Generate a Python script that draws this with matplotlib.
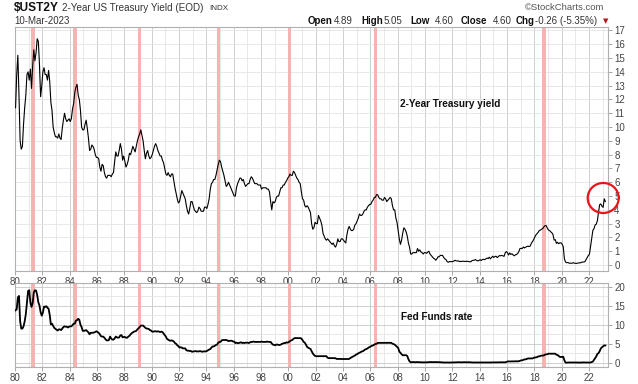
import numpy as np
import matplotlib
matplotlib.use("Agg")
import matplotlib.pyplot as plt
from matplotlib.patches import Ellipse
from matplotlib.ticker import MultipleLocator

plt.rcParams['font.family'] = ['Liberation Sans', 'DejaVu Sans']

# ---- 2-Year Treasury yield, monthly, per decade ----
ust2y_1980s = [
    11.4, 13.8, 15.2, 12.3, 9.0, 8.4, 8.6, 10.2, 11.4, 12.3, 13.8, 14.0,
    13.4, 14.2, 12.8, 14.4, 15.6, 14.8, 15.4, 16.4, 16.2, 14.5, 12.2, 13.0,
    14.0, 14.3, 13.8, 13.8, 13.4, 14.1, 13.3, 11.8, 11.2, 10.0, 9.6, 9.3,
    9.3, 9.2, 9.5, 9.2, 9.1, 9.9, 10.5, 11.0, 10.6, 10.4, 10.5, 10.6,
    10.4, 10.6, 11.3, 11.7, 12.5, 12.9, 13.1, 12.3, 12.0, 11.2, 10.0, 9.8,
    9.8, 10.2, 10.5, 9.9, 9.2, 8.3, 8.4, 8.7, 8.6, 8.4, 8.0, 7.8,
    7.8, 7.7, 7.1, 6.8, 7.3, 7.2, 6.7, 6.4, 6.3, 6.5, 6.5, 6.5,
    6.4, 6.6, 6.7, 7.5, 8.2, 7.9, 7.9, 8.3, 8.8, 8.4, 7.6, 7.9,
    7.5, 7.1, 7.3, 7.6, 8.1, 8.0, 8.3, 8.6, 8.4, 8.2, 8.6, 9.0,
    9.3, 9.5, 9.8, 9.4, 9.0, 8.3, 7.7, 8.1, 8.3, 7.9, 7.7, 7.8,
]
ust2y_1990s = [
    8.0, 8.3, 8.6, 8.8, 8.6, 8.3, 8.1, 7.9, 7.9, 7.6, 7.4, 7.0,
    6.6, 6.5, 6.7, 6.5, 6.4, 6.6, 6.6, 6.1, 5.6, 5.2, 4.8, 4.5,
    4.6, 5.0, 5.4, 5.2, 5.0, 4.8, 4.3, 3.9, 3.7, 4.1, 4.6, 4.6,
    4.3, 4.0, 3.9, 3.8, 3.9, 4.2, 4.1, 3.9, 3.9, 3.9, 4.2, 4.2,
    4.1, 4.4, 4.8, 5.5, 5.9, 6.0, 6.2, 6.2, 6.5, 6.9, 7.3, 7.6,
    7.5, 7.1, 6.8, 6.5, 6.1, 5.7, 5.8, 6.0, 5.8, 5.6, 5.4, 5.2,
    5.0, 5.0, 5.6, 5.9, 6.1, 6.3, 6.3, 6.1, 6.2, 5.9, 5.7, 5.8,
    5.9, 5.9, 6.2, 6.4, 6.3, 6.1, 5.9, 5.9, 5.9, 5.8, 5.8, 5.8,
    5.5, 5.6, 5.6, 5.6, 5.6, 5.5, 5.5, 5.3, 4.6, 4.0, 4.6, 4.5,
    4.6, 4.9, 5.0, 5.0, 5.3, 5.6, 5.6, 5.8, 5.8, 6.0, 6.1, 6.3,
]
ust2y_2000s = [
    6.4, 6.6, 6.5, 6.5, 6.8, 6.7, 6.5, 6.3, 6.2, 6.0, 5.9, 5.3,
    4.8, 4.7, 4.3, 4.2, 4.3, 4.2, 4.0, 3.8, 3.0, 2.6, 2.7, 3.1,
    3.0, 3.0, 3.6, 3.4, 3.2, 2.9, 2.3, 2.1, 1.9, 1.8, 1.9, 1.8,
    1.7, 1.6, 1.5, 1.6, 1.4, 1.3, 1.5, 1.9, 1.7, 1.7, 1.9, 1.9,
    1.8, 1.7, 1.6, 2.2, 2.6, 2.8, 2.6, 2.5, 2.5, 2.6, 2.9, 3.0,
    3.2, 3.4, 3.7, 3.6, 3.6, 3.7, 3.9, 4.0, 4.0, 4.2, 4.3, 4.4,
    4.4, 4.6, 4.7, 4.9, 4.9, 5.1, 5.1, 4.9, 4.8, 4.8, 4.7, 4.7,
    4.9, 4.8, 4.6, 4.7, 4.8, 4.9, 4.8, 4.3, 4.0, 4.0, 3.4, 3.1,
    2.5, 1.9, 1.5, 1.8, 2.3, 2.7, 2.6, 2.4, 2.1, 1.6, 1.3, 0.8,
    0.8, 0.9, 0.9, 0.9, 0.9, 1.2, 1.0, 1.1, 0.95, 0.9, 0.8, 0.9,
]
ust2y_2010s = [
    0.9, 0.85, 0.95, 1.0, 0.8, 0.7, 0.6, 0.5, 0.45, 0.35, 0.45, 0.6,
    0.6, 0.7, 0.7, 0.7, 0.55, 0.45, 0.4, 0.25, 0.2, 0.25, 0.25, 0.25,
    0.25, 0.3, 0.35, 0.3, 0.3, 0.3, 0.25, 0.27, 0.26, 0.28, 0.27, 0.26,
    0.27, 0.27, 0.26, 0.23, 0.25, 0.33, 0.34, 0.36, 0.4, 0.33, 0.3, 0.34,
    0.39, 0.33, 0.4, 0.42, 0.39, 0.45, 0.51, 0.47, 0.57, 0.45, 0.54, 0.64,
    0.55, 0.62, 0.64, 0.54, 0.61, 0.69, 0.67, 0.7, 0.67, 0.63, 0.88, 0.98,
    0.9, 0.73, 0.88, 0.77, 0.82, 0.73, 0.67, 0.74, 0.77, 0.84, 0.98, 1.2,
    1.21, 1.2, 1.31, 1.24, 1.3, 1.34, 1.37, 1.34, 1.38, 1.58, 1.7, 1.84,
    2.03, 2.18, 2.28, 2.38, 2.51, 2.53, 2.61, 2.64, 2.77, 2.86, 2.86, 2.68,
    2.54, 2.5, 2.41, 2.34, 2.21, 1.81, 1.84, 1.57, 1.65, 1.55, 1.61, 1.61,
]
ust2y_2020s = [
    1.52, 1.33, 0.45, 0.22, 0.17, 0.19, 0.14, 0.14, 0.13, 0.14, 0.17, 0.13,
    0.13, 0.12, 0.15, 0.16, 0.16, 0.2, 0.22, 0.22, 0.24, 0.39, 0.53, 0.69,
    0.78, 1.36, 1.98, 2.51, 2.64, 2.91, 2.96, 3.22, 3.86, 4.38, 4.43, 4.27,
    4.18, 4.80, 4.60,
]

# ---- Effective Fed Funds rate, monthly, per decade ----
ff_1980s = [
    13.8, 14.1, 17.2, 17.6, 11.0, 9.0, 9.0, 9.6, 10.9, 12.8, 15.9, 18.9,
    19.1, 15.9, 14.7, 15.7, 18.5, 19.1, 19.0, 17.8, 15.9, 15.1, 13.3, 12.4,
    13.2, 14.8, 14.7, 14.9, 14.5, 14.2, 12.6, 10.1, 10.3, 9.7, 9.2, 8.95,
    8.7, 8.5, 8.8, 8.8, 8.6, 9.0, 9.4, 9.6, 9.5, 9.5, 9.3, 9.5,
    9.6, 9.6, 9.9, 10.3, 10.3, 11.1, 11.2, 11.6, 11.3, 10.0, 9.4, 8.4,
    8.4, 8.5, 8.6, 8.3, 8.0, 7.5, 7.9, 7.9, 7.9, 8.0, 8.1, 8.3,
    8.1, 7.9, 7.5, 7.0, 6.9, 6.9, 6.6, 6.2, 5.9, 5.9, 6.0, 6.9,
    6.4, 6.1, 6.1, 6.4, 6.9, 6.7, 6.6, 6.7, 7.2, 7.3, 6.7, 6.8,
    6.8, 6.6, 6.6, 6.9, 7.1, 7.5, 7.8, 8.0, 8.2, 8.3, 8.4, 8.8,
    9.1, 9.4, 9.8, 9.8, 9.8, 9.5, 9.2, 9.0, 9.0, 8.9, 8.6, 8.5,
]
ff_1990s = [
    8.2, 8.2, 8.3, 8.3, 8.2, 8.3, 8.2, 8.1, 8.2, 8.1, 7.7, 7.3,
    6.9, 6.3, 6.1, 5.9, 5.8, 5.9, 5.8, 5.6, 5.2, 5.0, 4.6, 4.4,
    4.0, 4.1, 4.0, 3.8, 3.8, 3.8, 3.3, 3.2, 3.2, 3.1, 3.1, 2.9,
    3.0, 3.0, 3.1, 3.0, 3.0, 3.0, 3.1, 3.0, 2.9, 3.0, 3.0, 3.0,
    3.1, 3.3, 3.5, 3.6, 4.0, 4.3, 4.3, 4.5, 4.7, 4.8, 5.3, 5.5,
    5.5, 5.9, 6.0, 6.0, 6.0, 6.0, 5.9, 5.7, 5.8, 5.8, 5.8, 5.6,
    5.6, 5.2, 5.3, 5.2, 5.2, 5.3, 5.4, 5.2, 5.3, 5.2, 5.3, 5.3,
    5.3, 5.2, 5.4, 5.5, 5.5, 5.6, 5.5, 5.5, 5.5, 5.5, 5.5, 5.5,
    5.6, 5.5, 5.5, 5.5, 5.5, 5.6, 5.5, 5.5, 5.5, 5.1, 4.8, 4.7,
    4.6, 4.8, 4.8, 4.7, 4.7, 4.8, 5.0, 5.1, 5.2, 5.2, 5.4, 5.3,
]
ff_2000s = [
    5.5, 5.7, 5.9, 6.0, 6.3, 6.5, 6.5, 6.5, 6.5, 6.5, 6.5, 6.4,
    5.98, 5.5, 5.3, 4.8, 4.2, 3.97, 3.8, 3.65, 3.07, 2.49, 2.09, 1.82,
    1.73, 1.74, 1.73, 1.75, 1.75, 1.75, 1.73, 1.74, 1.75, 1.75, 1.34, 1.24,
    1.24, 1.26, 1.25, 1.26, 1.26, 1.22, 1.01, 1.03, 1.01, 1.01, 1.0, 0.98,
    1.0, 1.01, 1.0, 1.0, 1.0, 1.03, 1.26, 1.43, 1.61, 1.76, 1.93, 2.16,
    2.28, 2.5, 2.63, 2.79, 3.0, 3.04, 3.26, 3.5, 3.62, 3.78, 4.0, 4.16,
    4.29, 4.49, 4.59, 4.79, 4.94, 4.99, 5.24, 5.25, 5.25, 5.25, 5.25, 5.24,
    5.25, 5.26, 5.26, 5.25, 5.25, 5.25, 5.26, 5.02, 4.94, 4.76, 4.49, 4.24,
    3.94, 2.98, 2.61, 2.28, 1.98, 2.0, 2.01, 2.0, 1.81, 0.97, 0.39, 0.16,
    0.15, 0.22, 0.18, 0.15, 0.18, 0.21, 0.16, 0.16, 0.15, 0.12, 0.12, 0.12,
]
ff_2010s = [
    0.11, 0.13, 0.16, 0.2, 0.2, 0.18, 0.18, 0.19, 0.19, 0.19, 0.19, 0.18,
    0.17, 0.16, 0.14, 0.1, 0.09, 0.09, 0.07, 0.1, 0.08, 0.07, 0.08, 0.07,
    0.08, 0.1, 0.13, 0.14, 0.16, 0.16, 0.16, 0.13, 0.14, 0.16, 0.16, 0.16,
    0.14, 0.15, 0.14, 0.15, 0.11, 0.09, 0.09, 0.08, 0.08, 0.09, 0.08, 0.09,
    0.07, 0.07, 0.08, 0.09, 0.09, 0.1, 0.09, 0.09, 0.09, 0.09, 0.09, 0.12,
    0.11, 0.11, 0.11, 0.12, 0.12, 0.13, 0.13, 0.14, 0.14, 0.12, 0.12, 0.24,
    0.34, 0.38, 0.36, 0.37, 0.37, 0.38, 0.39, 0.4, 0.4, 0.4, 0.41, 0.54,
    0.65, 0.66, 0.79, 0.9, 0.91, 1.04, 1.15, 1.16, 1.15, 1.15, 1.16, 1.3,
    1.41, 1.42, 1.51, 1.69, 1.7, 1.82, 1.91, 1.91, 1.95, 2.19, 2.2, 2.27,
    2.4, 2.4, 2.41, 2.42, 2.39, 2.38, 2.4, 2.13, 2.04, 1.83, 1.55, 1.55,
]
ff_2020s = [
    1.55, 1.58, 0.65, 0.05, 0.05, 0.08, 0.09, 0.1, 0.09, 0.09, 0.09, 0.09,
    0.09, 0.08, 0.07, 0.07, 0.06, 0.08, 0.1, 0.09, 0.08, 0.08, 0.08, 0.08,
    0.08, 0.08, 0.2, 0.33, 0.77, 1.21, 1.68, 2.33, 2.56, 3.08, 3.78, 4.1,
    4.33, 4.57, 4.57,
]

# Shaded periods (Fed tightening peaks), decimal years
shade_years = [1981.3, 1984.4, 1989.1, 1994.9, 2000.1, 2006.4, 2018.7]
shade_width = 0.26

x_tick_years = list(range(1980, 2023, 2))
x_tick_labels = [f"{y % 100:02d}" for y in x_tick_years]

ust2y = np.array(ust2y_1980s + ust2y_1990s + ust2y_2000s + ust2y_2010s + ust2y_2020s)
fedfunds = np.array(ff_1980s + ff_1990s + ff_2000s + ff_2010s + ff_2020s)
t_ust = 1980 + (np.arange(len(ust2y)) + 0.5) / 12.0
t_ff = 1980 + (np.arange(len(fedfunds)) + 0.5) / 12.0

W, H = 638, 384
fig = plt.figure(figsize=(W / 100, H / 100), dpi=100)
fig.patch.set_facecolor('white')

L, R = 15, 608
ax1 = fig.add_axes([L / W, 1 - 271 / H, (R - L) / W, (271 - 27) / H])
ax2 = fig.add_axes([L / W, 1 - 367 / H, (R - L) / W, (367 - 283) / H])

grid_major = '#c8c8c8'
grid_minor = '#e4e4e4'
txtc = '#444444'

for ax in (ax1, ax2):
    ax.set_xlim(1980.0, 2023.4)
    ax.set_xticks(x_tick_years)
    ax.set_xticklabels(x_tick_labels)
    ax.xaxis.set_minor_locator(MultipleLocator(1))
    ax.yaxis.tick_right()
    ax.tick_params(axis='both', which='major', labelsize=7, colors='#999999',
                   labelcolor=txtc, length=3, width=0.6, pad=1.5)
    ax.tick_params(axis='x', which='minor', length=0)
    ax.tick_params(axis='y', which='minor', length=0)
    ax.grid(True, which='major', color=grid_major, linewidth=0.6)
    ax.grid(True, which='minor', color=grid_minor, linewidth=0.6)
    ax.set_axisbelow(True)
    for s in ax.spines.values():
        s.set_color('#b0b0b0')
        s.set_linewidth(0.8)
    for sy in shade_years:
        ax.axvspan(sy - shade_width / 2, sy + shade_width / 2,
                   color='#f7b2b2', lw=0, zorder=1)

ax1.set_ylim(-0.43, 17.25)
ax1.set_yticks(range(0, 18))
ax1.grid(True, axis='y', which='major', color=grid_minor, linewidth=0.6)
ax1.plot(t_ust, ust2y, color='black', lw=0.8, zorder=3)

ax2.set_ylim(-1.1, 21.0)
ax2.set_yticks([0, 5, 10, 15, 20])
ax2.yaxis.set_minor_locator(MultipleLocator(2.5))
ax2.plot(t_ff, fedfunds, color='black', lw=1.3, zorder=3)

# Red circle around recent yield
circ = Ellipse((2023.05, 4.86), 31 / 13.66, 30 / 13.79, fill=False,
               edgecolor='#e8141a', lw=1.6, zorder=5, clip_on=False)
ax1.add_patch(circ)

# Annotations
fig.text(400 / W, 1 - 104 / H, '2-Year Treasury yield', fontsize=7.2,
         fontweight='bold', color='#111111', va='center', ha='left')
fig.text(401 / W, 1 - 317 / H, 'Fed Funds rate', fontsize=7.2,
         fontweight='bold', color='#111111', va='center', ha='left')

# Header
def ftext(x, y, s, **kw):
    fig.text(x / W, 1 - y / H, s, va='center', ha='left', **kw)

ftext(14, 8, '$UST2Y', fontsize=8.6, fontweight='bold', color='#111111')
ftext(62, 8, '2-Year US Treasury Yield (EOD)', fontsize=7.1, color='#333333')
ftext(209, 8.5, 'INDX', fontsize=5.8, color='#333333')
ftext(14, 21, '10-Mar-2023', fontsize=7, color='#333333')
fig.text(604 / W, 1 - 8 / H, '\u00a9StockCharts.com', va='center', ha='right',
         fontsize=6.8, color='#555555')

y_h = 20.5
ftext(308, y_h, 'Open', fontsize=7, fontweight='bold', color='#111111')
ftext(334, y_h, '4.89', fontsize=7, color='#333333')
ftext(361, y_h, 'High', fontsize=7, fontweight='bold', color='#111111')
ftext(384, y_h, '5.05', fontsize=7, color='#333333')
ftext(410, y_h, 'Low', fontsize=7, fontweight='bold', color='#111111')
ftext(435, y_h, '4.60', fontsize=7, color='#333333')
ftext(461, y_h, 'Close', fontsize=7, fontweight='bold', color='#111111')
ftext(493, y_h, '4.60', fontsize=7, color='#333333')
ftext(516, y_h, 'Chg', fontsize=7, fontweight='bold', color='#111111')
ftext(535, y_h, '-0.26 (-5.35%)', fontsize=7, color='#333333')
ftext(603, y_h + 0.5, '\u25bc', fontsize=5, color='#b01818',
      family=['DejaVu Sans'])

fig.savefig('out.png', dpi=100, facecolor='white')
